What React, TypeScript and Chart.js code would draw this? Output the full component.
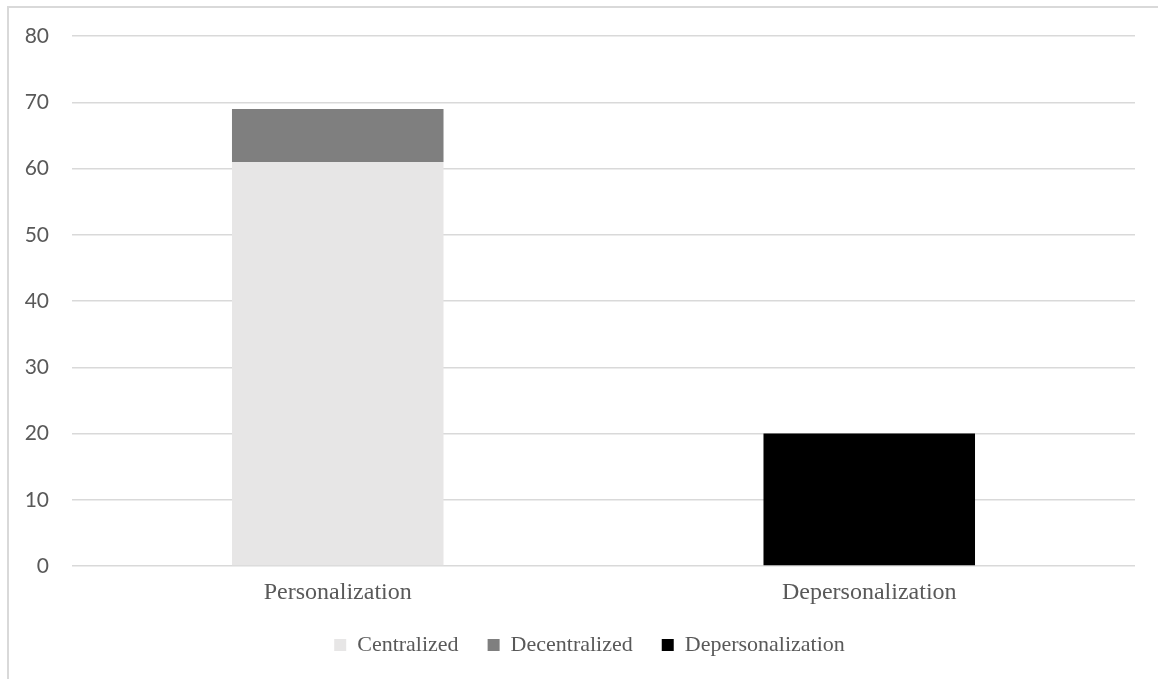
import React, { useEffect, useRef } from "react";
import { Chart, registerables } from "chart.js";

Chart.register(...registerables);

const categories = ["Personalization", "Depersonalization"];
const centralized = [61, null];
const decentralized = [8, null];
const depersonalization = [null, 20];
const yTicks = [0, 10, 20, 30, 40, 50, 60, 70, 80];

const TEXT = "#595959";
const GRID = "#d9d9d9";

export default function App() {
  const ref = useRef<HTMLCanvasElement | null>(null);

  useEffect(() => {
    if (!ref.current) return;
    const chart = new Chart(ref.current, {
      type: "bar",
      data: {
        labels: categories,
        datasets: [
          { label: "Centralized", data: centralized, backgroundColor: "#e7e6e6", yAxisID: "y" },
          { label: "Decentralized", data: decentralized, backgroundColor: "#7f7f7f", yAxisID: "y" },
          { label: "Depersonalization", data: depersonalization, backgroundColor: "#000000", yAxisID: "y" },
        ],
      },
      options: {
        responsive: false,
        animation: false,
        devicePixelRatio: 1,
        datasets: { bar: { categoryPercentage: 1, barPercentage: 0.398 } },
        layout: { padding: { left: 0, right: 0, top: 36, bottom: 13 } },
        plugins: {
          tooltip: { enabled: false },
          legend: {
            position: "bottom",
            labels: {
              boxWidth: 12,
              boxHeight: 12,
              padding: 29,
              color: TEXT,
              font: { family: "'Liberation Serif', serif", size: 22 },
            },
          },
        },
        scales: {
          x: {
            stacked: true,
            grid: { display: false, drawTicks: false, tickLength: 0 },
            border: { display: false },
            ticks: {
              color: TEXT,
              padding: 15,
              font: { family: "'Liberation Serif', serif", size: 24, lineHeight: 1 },
            },
            afterFit: (s: any) => {
              s.height = 39;
            },
          },
          y: {
            stacked: true,
            position: "left",
            min: 0,
            max: 80,
            afterBuildTicks: (s: any) => {
              s.ticks = yTicks.map((v) => ({ value: v }));
            },
            grid: { color: GRID, lineWidth: 1.5, drawTicks: false },
            border: { display: false },
            ticks: {
              color: TEXT,
              padding: 23,
              font: { family: "Lato, sans-serif", size: 21 },
            },
            afterFit: (s: any) => {
              s.width = 72;
            },
          },
          y2: {
            position: "right",
            display: true,
            grid: { display: false },
            border: { display: false },
            ticks: { display: false },
            afterFit: (s: any) => {
              s.width = 44;
            },
          },
        },
      },
    });
    return () => chart.destroy();
  }, []);

  return (
    <div
      style={{
        position: "fixed",
        left: 0,
        top: 0,
        width: 1158,
        height: 679,
        overflow: "hidden",
        background: "#ffffff",
      }}
    >
      <div
        style={{
          position: "absolute",
          left: 7,
          top: 6,
          width: 1200,
          height: 700,
          borderLeft: `2px solid ${GRID}`,
          borderTop: `2px solid ${GRID}`,
        }}
      />
      <canvas
        ref={ref}
        width={1179}
        height={679}
        style={{ position: "absolute", left: 0, top: 0, width: 1179, height: 679 }}
      />
    </div>
  );
}
